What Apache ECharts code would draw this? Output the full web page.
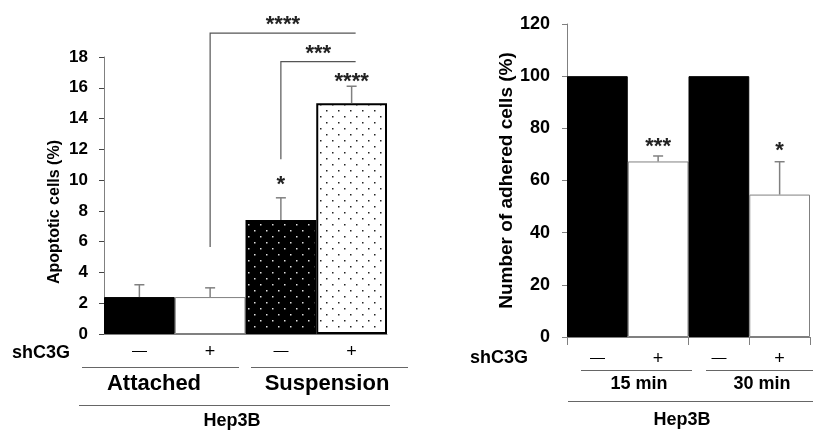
<!DOCTYPE html>
<html>
<head>
<meta charset="utf-8">
<script src="https://cdn.jsdelivr.net/npm/echarts@6/dist/echarts.min.js"></script>
<style>
html,body{margin:0;padding:0;background:#fff;}
#chart{width:813px;height:430px;}
</style>
</head>
<body>
<div id="chart"></div>
<script>
// 左图: Apoptotic cells
var leftCats = ['−', '+', '−', '+'];
var leftMeans = [2.4, 2.4, 7.4, 15.0];
var leftErrs = [0.8, 0.6, 1.45, 1.1];
var leftStars = ['', '', '*', '****'];
var leftStarLevel = [0, 0, 9.7, 16.4];
// [from, to, level, leg bottom, label]
var leftBrackets = [[1, 3, 19.55, 5.65, '****'], [2, 3, 17.7, 11.35, '***']];

// 右图: adhered cells
var rightCats = ['−', '+', '−', '+'];
var rightMeans = [100, 67.3, 100, 54.6];
var rightErrs = [0, 2.1, 0, 12.6];
var rightStars = ['', '***', '', '*'];
var rightStarLevel = [0, 72.9, 0, 71.3];

var FONT = 'Liberation Sans, Arial, sans-serif';
var GRAY = '#808080';

// 点状填充
function dots(bg, fg) {
    var c = document.createElement('canvas');
    c.width = 12; c.height = 12;
    var ctx = c.getContext('2d');
    ctx.fillStyle = bg;
    ctx.fillRect(0, 0, 12, 12);
    ctx.fillStyle = fg;
    ctx.fillRect(2, 2, 1.5, 1.5);
    ctx.fillRect(8, 8, 1.5, 1.5);
    return c;
}

var leftStyles = [
    {color: '#000', borderColor: '#000', borderWidth: 1},
    {color: '#fff', borderColor: GRAY, borderWidth: 1},
    {color: {image: dots('#000', '#e0e0e0'), repeat: 'repeat'}, borderColor: '#000', borderWidth: 2},
    {color: {image: dots('#fff', '#222'), repeat: 'repeat'}, borderColor: '#000', borderWidth: 2}
];
var rightStyles = [
    {color: '#000', borderColor: '#000', borderWidth: 1},
    {color: '#fff', borderColor: GRAY, borderWidth: 1},
    {color: '#000', borderColor: '#000', borderWidth: 1},
    {color: '#fff', borderColor: GRAY, borderWidth: 1}
];

function barData(means, styles) {
    return means.map(function (v, i) { return {value: v, itemStyle: styles[i]}; });
}

// 误差线 + 星号
function errRender(params, api) {
    var i = api.value(0), m = api.value(1), e = api.value(2);
    var kids = [];
    if (e > 0) {
        var b = api.coord([i, m]), t = api.coord([i, m + e]);
        kids.push({type: 'line', shape: {x1: b[0], y1: b[1], x2: t[0], y2: t[1]}, style: {stroke: GRAY, lineWidth: 1.5}});
        kids.push({type: 'line', shape: {x1: t[0] - 5, y1: t[1], x2: t[0] + 5, y2: t[1]}, style: {stroke: GRAY, lineWidth: 1.5}});
    }
    return {type: 'group', children: kids};
}
function starRender(labels) {
    return function (params, api) {
        var i = api.value(0);
        if (!labels[i]) return;
        var p = api.coord([i, api.value(1)]);
        return {type: 'text', x: p[0], y: p[1], style: {text: labels[i], fill: '#222', font: 'bold 22px ' + FONT, align: 'center', verticalAlign: 'middle'}};
    };
}
function bracketRender(params, api) {
    var f = api.value(0), t = api.value(1), lv = api.value(2), lb = api.value(3);
    var a = api.coord([f, lb]), b = api.coord([f, lv]), c = api.coord([t, lv]);
    var lab = leftBrackets[params.dataIndex][4];
    return {type: 'group', children: [
        {type: 'polyline', shape: {points: [a, b, [c[0] + 4, c[1]]]}, style: {stroke: '#555', lineWidth: 1.2, fill: null}},
        {type: 'text', x: (b[0] + c[0] + 4) / 2, y: b[1] - 8, style: {text: lab, fill: '#222', font: 'bold 22px ' + FONT, align: 'center', verticalAlign: 'middle'}}
    ]};
}

var signLabel = {
    formatter: function (v) { return v === '+' ? '{p|+}' : '{m|—}'; },
    rich: {
        p: {fontSize: 18, fontFamily: FONT, color: '#000'},
        m: {fontSize: 15, fontFamily: FONT, color: '#000'}
    }
};

var myChart = echarts.init(document.getElementById('chart'));
var option = {
    backgroundColor: '#fff',
    animation: false,
    grid: [
        {left: 104, right: 426, top: 57, bottom: 96},
        {left: 567, right: 3, top: 24, bottom: 93}
    ],
    xAxis: [
        {
            gridIndex: 0, type: 'category', data: leftCats,
            axisLine: {lineStyle: {color: GRAY, width: 1}},
            axisTick: {show: false},
            axisLabel: Object.assign({margin: 9, interval: 0}, signLabel)
        },
        {
            gridIndex: 1, type: 'category', data: rightCats,
            axisLine: {lineStyle: {color: GRAY, width: 1}},
            axisTick: {show: true, interval: 1, length: 8, lineStyle: {color: GRAY}},
            axisLabel: Object.assign({margin: 13, interval: 0}, signLabel)
        }
    ],
    yAxis: [
        {
            gridIndex: 0, type: 'value', min: 0, max: 18, interval: 2,
            splitLine: {show: false},
            axisLine: {show: true, lineStyle: {color: GRAY}},
            axisTick: {show: true, length: 5, lineStyle: {color: '#444'}},
            axisLabel: {margin: 16, color: '#000', fontSize: 17, fontWeight: 'bold', fontFamily: FONT}
        },
        {
            gridIndex: 1, type: 'value', min: 0, max: 120, interval: 20,
            name: 'Number of adhered cells (%)', nameLocation: 'middle', nameGap: 50,
            nameTextStyle: {color: '#000', fontSize: 19, fontWeight: 'bold', fontFamily: FONT},
            splitLine: {show: false},
            axisLine: {show: true, lineStyle: {color: GRAY}},
            axisTick: {show: true, length: 5, lineStyle: {color: GRAY}},
            axisLabel: {margin: 17, color: '#000', fontSize: 18, fontWeight: 'bold', fontFamily: FONT}
        }
    ],
    series: [
        {type: 'bar', xAxisIndex: 0, yAxisIndex: 0, barWidth: '100%', data: barData(leftMeans, leftStyles)},
        {type: 'custom', xAxisIndex: 0, yAxisIndex: 0, renderItem: errRender, z: 5,
         data: leftMeans.map(function (v, i) { return [i, v, leftErrs[i]]; })},
        {type: 'custom', xAxisIndex: 0, yAxisIndex: 0, renderItem: starRender(leftStars), z: 5,
         data: leftStarLevel.map(function (v, i) { return [i, v]; })},
        {type: 'custom', xAxisIndex: 0, yAxisIndex: 0, renderItem: bracketRender, z: 5, clip: false,
         data: leftBrackets.map(function (b) { return [b[0], b[1], b[2], b[3]]; })},
        {type: 'bar', xAxisIndex: 1, yAxisIndex: 1, barWidth: '100%', data: barData(rightMeans, rightStyles)},
        {type: 'custom', xAxisIndex: 1, yAxisIndex: 1, renderItem: errRender, z: 5,
         data: rightMeans.map(function (v, i) { return [i, v, rightErrs[i]]; })},
        {type: 'custom', xAxisIndex: 1, yAxisIndex: 1, renderItem: starRender(rightStars), z: 5,
         data: rightStarLevel.map(function (v, i) { return [i, v]; })}
    ],
    graphic: [
        {type: 'text', x: 55, y: 212, rotation: Math.PI / 2,
         style: {text: 'Apoptotic cells (%)', font: 'bold 16px ' + FONT, fill: '#000', align: 'center', verticalAlign: 'middle'}},
        {type: 'text', x: 12, y: 353, style: {text: 'shC3G', font: 'bold 18px ' + FONT, fill: '#000', verticalAlign: 'middle'}},
        {type: 'line', shape: {x1: 82, y1: 367.5, x2: 239, y2: 367.5}, style: {stroke: '#666', lineWidth: 1}},
        {type: 'line', shape: {x1: 251, y1: 367.5, x2: 408, y2: 367.5}, style: {stroke: '#666', lineWidth: 1}},
        {type: 'text', x: 154, y: 384, style: {text: 'Attached', font: 'bold 22px ' + FONT, fill: '#000', align: 'center', verticalAlign: 'middle'}},
        {type: 'text', x: 327, y: 384, style: {text: 'Suspension', font: 'bold 22px ' + FONT, fill: '#000', align: 'center', verticalAlign: 'middle'}},
        {type: 'line', shape: {x1: 79, y1: 405.5, x2: 390, y2: 405.5}, style: {stroke: '#666', lineWidth: 1}},
        {type: 'text', x: 232, y: 421, style: {text: 'Hep3B', font: 'bold 18px ' + FONT, fill: '#000', align: 'center', verticalAlign: 'middle'}},

        {type: 'text', x: 470, y: 358, style: {text: 'shC3G', font: 'bold 18px ' + FONT, fill: '#000', verticalAlign: 'middle'}},
        {type: 'line', shape: {x1: 581, y1: 370.5, x2: 692, y2: 370.5}, style: {stroke: '#666', lineWidth: 1}},
        {type: 'line', shape: {x1: 706, y1: 370.5, x2: 813, y2: 370.5}, style: {stroke: '#666', lineWidth: 1}},
        {type: 'text', x: 639, y: 384, style: {text: '15 min', font: 'bold 18px ' + FONT, fill: '#000', align: 'center', verticalAlign: 'middle'}},
        {type: 'text', x: 762, y: 384, style: {text: '30 min', font: 'bold 18px ' + FONT, fill: '#000', align: 'center', verticalAlign: 'middle'}},
        {type: 'line', shape: {x1: 568, y1: 401.5, x2: 813, y2: 401.5}, style: {stroke: '#666', lineWidth: 1}},
        {type: 'text', x: 682, y: 420, style: {text: 'Hep3B', font: 'bold 18px ' + FONT, fill: '#000', align: 'center', verticalAlign: 'middle'}}
    ]
};
myChart.setOption(option);
</script>
</body>
</html>
